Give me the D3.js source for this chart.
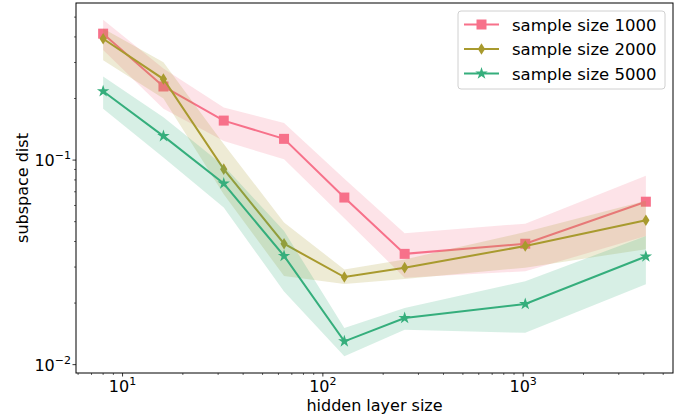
<!DOCTYPE html>
<html>
<head>
<meta charset="utf-8">
<script src="https://cdn.jsdelivr.net/npm/d3@7"></script>
<style>
  body { margin: 0; background: #fff; }
  svg { font-family: "DejaVu Sans", sans-serif; }
</style>
</head>
<body>
<div id="chart"></div>
<script>
// hidden layer sizes (x)
var sizes = [8, 16, 32, 64, 128, 256, 1024, 4096];

// sample size 1000
var mean1000 = [0.415, 0.229, 0.156, 0.127, 0.0656, 0.0348, 0.039, 0.0626];
var low1000  = [0.345, 0.178, 0.124, 0.101, 0.052, 0.0266, 0.0286, 0.0425];
var high1000 = [0.485, 0.28, 0.181, 0.152, 0.081, 0.0439, 0.0489, 0.0838];

// sample size 2000
var mean2000 = [0.392, 0.249, 0.0903, 0.039, 0.0268, 0.0298, 0.038, 0.0508];
var low2000  = [0.308, 0.2, 0.068, 0.0271, 0.0248, 0.0262, 0.0298, 0.0367];
var high2000 = [0.44, 0.301, 0.12, 0.0495, 0.0292, 0.0327, 0.0445, 0.0632];

// sample size 5000
var mean5000 = [0.217, 0.131, 0.0768, 0.034, 0.013, 0.0169, 0.0198, 0.0338];
var low5000  = [0.178, 0.103, 0.0586, 0.0228, 0.011, 0.0148, 0.0143, 0.0247];
var high5000 = [0.256, 0.162, 0.0937, 0.045, 0.0151, 0.0189, 0.0256, 0.0425];

var labels = ["sample size 1000", "sample size 2000", "sample size 5000"];
var colors = ["#f7718a", "#a89a2e", "#35ae7c"];
var symbols = [d3.symbolSquare, "thin_diamond", d3.symbolStar];

var xTicks = [10, 100, 1000];
var xTickExp = ["1", "2", "3"];
var yTicks = [0.01, 0.1];
var yTickExp = ["\u22122", "\u22121"];

var series = [
  { mean: mean1000, low: low1000, high: high1000 },
  { mean: mean2000, low: low2000, high: high2000 },
  { mean: mean5000, low: low5000, high: high5000 }
];

var W = 683, H = 414;
var margin = { top: 3, right: 10, bottom: 41, left: 76 };
var width = W - margin.left - margin.right,
    height = H - margin.top - margin.bottom;
var fs = "16px", fsSup = "11px", fsLegend = "16.5px";

// matplotlib style 5% margins in log space
function logPad(lo, hi) {
  var a = Math.log10(lo), b = Math.log10(hi), p = (b - a) * 0.05;
  return [Math.pow(10, a - p), Math.pow(10, b + p)];
}
var allLow = d3.min(series, function (s) { return d3.min(s.low); });
var allHigh = d3.max(series, function (s) { return d3.max(s.high); });

var x = d3.scaleLog().domain(logPad(d3.min(sizes), d3.max(sizes))).range([0, width]);
var y = d3.scaleLog().domain(logPad(allLow, allHigh)).range([height, 0]);

var svg = d3.select("#chart").append("svg")
    .attr("width", W)
    .attr("height", H);
var g = svg.append("g")
    .attr("transform", "translate(" + margin.left + "," + margin.top + ")");

var plot = g.append("g");

function markerPath(sym, scale) {
  if (sym === "thin_diamond") {
    var w = 3.6 * scale, h = 5.8 * scale;
    return "M0," + (-h) + "L" + w + ",0L0," + h + "L" + (-w) + ",0Z";
  }
  if (sym === d3.symbolSquare) return d3.symbol().type(sym).size(100 * scale * scale)();
  return d3.symbol().type(sym).size(48 * scale * scale)();
}

series.forEach(function (s, i) {
  var area = d3.area()
      .x(function (d, j) { return x(sizes[j]); })
      .y0(function (d, j) { return y(s.low[j]); })
      .y1(function (d, j) { return y(s.high[j]); });
  plot.append("path")
      .attr("d", area(sizes))
      .attr("fill", colors[i])
      .attr("fill-opacity", 0.2);

  var line = d3.line()
      .x(function (d, j) { return x(sizes[j]); })
      .y(function (d) { return y(d); });
  plot.append("path")
      .attr("d", line(s.mean))
      .attr("fill", "none")
      .attr("stroke", colors[i])
      .attr("stroke-width", 2);

  plot.selectAll(".m" + i)
      .data(s.mean)
      .enter().append("path")
      .attr("class", "m" + i)
      .attr("transform", function (d, j) { return "translate(" + x(sizes[j]) + "," + y(d) + ")"; })
      .attr("d", markerPath(symbols[i], 1))
      .attr("fill", colors[i]);
});

// frame
g.append("rect")
    .attr("width", width)
    .attr("height", height)
    .attr("fill", "none")
    .attr("stroke", "#000")
    .attr("stroke-width", 1);

// minor ticks
function minors(domain) {
  var out = [];
  for (var e = -4; e <= 5; e++) {
    for (var k = 2; k <= 9; k++) {
      var v = k * Math.pow(10, e);
      if (v >= domain[0] && v <= domain[1]) out.push(v);
    }
  }
  return out;
}

var xAxis = g.append("g").attr("transform", "translate(0," + height + ")");
xAxis.selectAll(".xminor").data(minors(x.domain())).enter().append("line")
    .attr("x1", x).attr("x2", x).attr("y1", 0).attr("y2", 2)
    .attr("stroke", "#000").attr("stroke-width", 0.6);
xAxis.selectAll(".xmajor").data(xTicks).enter().append("line")
    .attr("x1", x).attr("x2", x).attr("y1", 0).attr("y2", 3.5)
    .attr("stroke", "#000").attr("stroke-width", 0.8);
var xl = xAxis.selectAll(".xlab").data(xTicks).enter().append("text")
    .attr("x", x).attr("y", 18.5)
    .attr("text-anchor", "middle")
    .style("font-size", fs);
xl.append("tspan").text("10");
xl.append("tspan").attr("dy", -7).style("font-size", fsSup).text(function (d, i) { return xTickExp[i]; });

var yAxis = g.append("g");
yAxis.selectAll(".yminor").data(minors(y.domain())).enter().append("line")
    .attr("y1", y).attr("y2", y).attr("x1", 0).attr("x2", -2)
    .attr("stroke", "#000").attr("stroke-width", 0.6);
yAxis.selectAll(".ymajor").data(yTicks).enter().append("line")
    .attr("y1", y).attr("y2", y).attr("x1", 0).attr("x2", -3.5)
    .attr("stroke", "#000").attr("stroke-width", 0.8);
var yl = yAxis.selectAll(".ylab").data(yTicks).enter().append("text")
    .attr("x", -5).attr("y", function (d) { return y(d) + 6; })
    .attr("text-anchor", "end")
    .style("font-size", fs);
yl.append("tspan").text("10");
yl.append("tspan").attr("dy", -7).style("font-size", fsSup).text(function (d, i) { return yTickExp[i]; });

// axis titles
g.append("text")
    .attr("x", width / 2)
    .attr("y", height + 37.5)
    .attr("text-anchor", "middle")
    .style("font-size", fs)
    .text("hidden layer size");

g.append("text")
    .attr("transform", "translate(" + (-48) + "," + (height / 2) + ")rotate(-90)")
    .attr("text-anchor", "middle")
    .style("font-size", fs)
    .text("subspace dist");

// legend
var lg = svg.append("g").attr("transform", "translate(458,11)");
lg.append("rect")
    .attr("width", 207).attr("height", 78)
    .attr("rx", 3)
    .attr("fill", "#fff").attr("fill-opacity", 0.8)
    .attr("stroke", "#d0d0d0");
labels.forEach(function (lab, i) {
  var yy = 13.5 + i * 24.5;
  lg.append("line")
      .attr("x1", 6).attr("x2", 41).attr("y1", yy).attr("y2", yy)
      .attr("stroke", colors[i]).attr("stroke-width", 2);
  lg.append("path")
      .attr("transform", "translate(23.5," + yy + ")")
      .attr("d", markerPath(symbols[i], 1))
      .attr("fill", colors[i]);
  lg.append("text")
      .attr("x", 54).attr("y", yy + 6)
      .style("font-size", fsLegend)
      .text(lab);
});
</script>
</body>
</html>
